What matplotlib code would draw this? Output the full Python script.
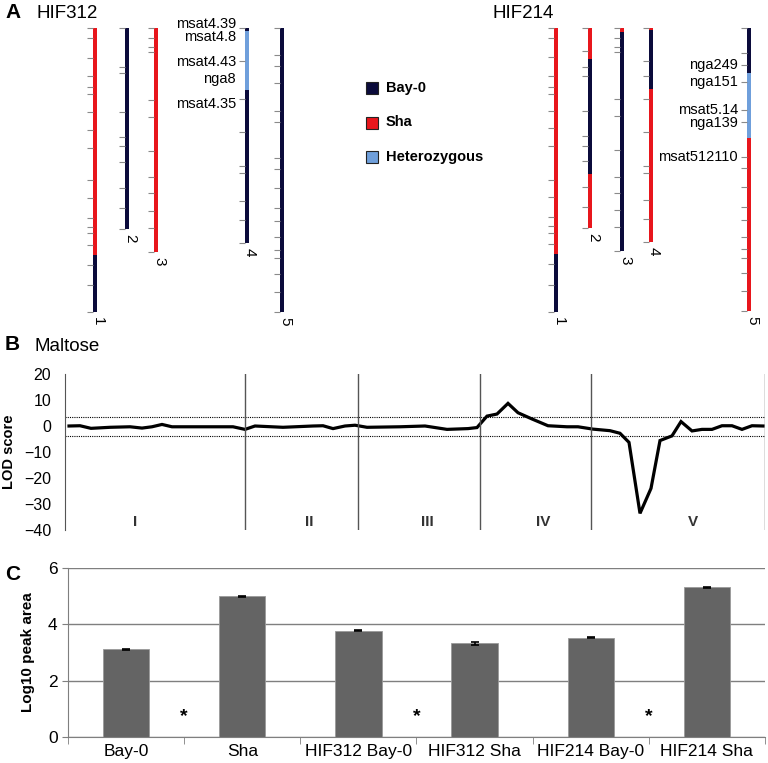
import numpy as np
import matplotlib
matplotlib.use("Agg")
import matplotlib.pyplot as plt
from matplotlib.patches import Rectangle

plt.rcParams['font.family'] = ['Liberation Sans', 'DejaVu Sans']

# ---------------- data ----------------
# panel A: chromosome lengths, genotype segments, marker ticks (position from top)
geno_colors = {'Bay': '#0b0b3b', 'Sha': '#e8161c', 'Het': '#6f9fdb'}
legend_names = ['Bay-0', 'Sha', 'Heterozygous']
legend_keys = ['Bay', 'Sha', 'Het']

hif312_len = [284, 201, 224, 215, 284]
hif312_seg = [
    [(0, 227, 'Sha'), (227, 284, 'Bay')],
    [(0, 201, 'Bay')],
    [(0, 224, 'Sha')],
    [(0, 3, 'Bay'), (3, 62, 'Het'), (62, 215, 'Bay')],
    [(0, 284, 'Bay')],
]
hif312_ticks = [
    [0, 10, 30, 48, 59, 66, 84, 102, 120, 152, 170, 190, 199, 205, 217, 237, 257, 284],
    [0, 39, 45, 84, 109, 118, 134, 160, 180, 201],
    [0, 10, 19, 24, 72, 89, 123, 149, 165, 183, 200, 224],
    [0, 33, 71, 104, 138, 145, 173, 192, 215],
    [0, 27, 38, 55, 83, 94, 130, 141, 160, 180, 193, 209, 222, 230, 246, 264, 284],
]
hif312_markers = ['msat4.39', 'msat4.8', 'msat4.43', 'nga8', 'msat4.35']
hif312_marker_pos = [-4, 9, 34, 51, 76]
hif312_marker_chr = 4

hif214_len = [284, 200, 223, 214, 283]
hif214_seg = [
    [(0, 226, 'Sha'), (226, 284, 'Bay')],
    [(0, 31, 'Sha'), (31, 146, 'Bay'), (146, 200, 'Sha')],
    [(0, 4, 'Sha'), (4, 223, 'Bay')],
    [(0, 2, 'Sha'), (2, 61, 'Bay'), (61, 214, 'Sha')],
    [(0, 45, 'Bay'), (45, 110, 'Het'), (110, 283, 'Sha')],
]
hif214_ticks = [
    [0, 10, 29, 48, 59, 66, 83, 100, 118, 152, 169, 189, 198, 205, 216, 236, 257, 284],
    [0, 23, 39, 48, 83, 108, 118, 133, 159, 179, 200],
    [0, 10, 19, 24, 71, 88, 122, 149, 165, 182, 199, 223],
    [0, 33, 48, 71, 104, 138, 145, 172, 191, 214],
    [0, 25, 37, 54, 82, 94, 129, 140, 159, 179, 192, 209, 221, 230, 245, 263, 283],
]
hif214_markers = ['nga249', 'nga151', 'msat5.14', 'nga139', 'msat512110']
hif214_marker_pos = [37, 54, 82, 95, 129]
hif214_marker_chr = 5

# panel B: LOD profile along genome
lod_pos = [4, 15, 26, 45, 65, 77, 87, 97, 107, 135, 168, 180, 190, 218, 248, 258, 268,
           280, 290, 302, 335, 360, 382, 403, 412, 422, 432, 443, 453, 467, 483, 502,
           513, 528, 545, 555, 564, 575, 586, 595, 607, 616, 627, 637, 647, 657, 667,
           677, 687, 698]
lod_val = [0, 0.1, -0.9, -0.5, -0.3, -0.8, -0.3, 0.6, -0.3, -0.3, -0.3, -1.3, 0, -0.5,
           0, 0.1, -1.0, 0, 0.3, -0.5, -0.3, 0, -1.3, -1.0, -0.6, 3.8, 4.6, 8.7, 5.1,
           2.7, 0.1, -0.3, -0.3, -1.2, -1.8, -2.8, -6.3, -33.6, -24, -5.6, -3.8, 1.7,
           -1.9, -1.3, -1.3, 0.1, 0.1, -1.3, 0.1, 0]
chr_bounds = [180, 293, 415, 526, 700]
chr_names = ['I', 'II', 'III', 'IV', 'V']
chr_label_pos = [70, 244, 362, 478, 628]
thr_up, thr_low = 3.3, -3.7

# panel C: log10 peak area
groups = ['Bay-0', 'Sha', 'HIF312 Bay-0', 'HIF312 Sha', 'HIF214 Bay-0', 'HIF214 Sha']
peak = [3.12, 4.99, 3.77, 3.32, 3.52, 5.31]
peak_err = [0.02, 0.02, 0.02, 0.07, 0.02, 0.02]
star_pos = [0.5, 2.5, 4.5]

# ---------------- figure ----------------
W, H = 768, 763
fig = plt.figure(figsize=(W / 100, H / 100), dpi=100)

# panel A in pixel-like coordinates
axA = fig.add_axes([0, (H - 330) / H, 1, 330 / H])
axA.set_xlim(0, W)
axA.set_ylim(330, 0)
axA.axis('off')

top = 28
bw = 4.5


def draw_set(xs, lens, segs, ticks, markers, mpos, mchr):
    for i, x in enumerate(xs):
        for s, e, g in segs[i]:
            axA.add_patch(Rectangle((x - bw / 2, top + s), bw, e - s,
                                    facecolor=geno_colors[g], edgecolor='none'))
        t = np.array(ticks[i]) + top
        axA.hlines(t, x - bw / 2 - 6, x - bw / 2, color='#8a8a8a', lw=0.8)
        axA.text(x + 3, top + lens[i] + 5, str(i + 1), rotation=-90,
                 ha='center', va='top', fontsize=11)
    x = xs[mchr - 1]
    for name, p in zip(markers, mpos):
        axA.text(x - 11, top + p, name, ha='right', va='center', fontsize=10.5)


draw_set([95, 127, 156, 247, 282], hif312_len, hif312_seg, hif312_ticks,
         hif312_markers, hif312_marker_pos, hif312_marker_chr)
draw_set([556, 590, 622, 651, 749], hif214_len, hif214_seg, hif214_ticks,
         hif214_markers, hif214_marker_pos, hif214_marker_chr)

axA.text(5, 13, 'A', fontsize=15, fontweight='bold', va='center')
axA.text(37, 13, 'HIF312', fontsize=13.5, va='center')
axA.text(493, 13, 'HIF214', fontsize=13.5, va='center')

for k, (name, key) in enumerate(zip(legend_names, legend_keys)):
    yc = 88 + k * 34.5
    axA.add_patch(Rectangle((366, yc - 6), 12, 12, facecolor=geno_colors[key],
                            edgecolor='#222222', lw=0.8))
    axA.text(386, yc, name, fontsize=10.5, fontweight='bold', va='center')

# panel B
axB = fig.add_axes([65 / W, (H - 530) / H, 700 / W, 156 / H])
axB.plot(lod_pos, lod_val, color='black', lw=2.3, solid_joinstyle='miter')
axB.axhline(thr_up, color='black', lw=0.8, ls=(0, (1, 1)))
axB.axhline(thr_low, color='black', lw=0.8, ls=(0, (1, 1)))
for b in chr_bounds:
    axB.axvline(b, color='#555555', lw=1)
for name, p in zip(chr_names, chr_label_pos):
    axB.text(p, -37, name, ha='center', va='center', fontsize=11,
             fontweight='bold', color='#333333')
axB.set_xlim(0, 700)
axB.set_ylim(-40, 20)
axB.set_yticks([20, 10, 0, -10, -20, -30, -40])
axB.tick_params(axis='y', length=0, pad=10, labelsize=11.5)
axB.set_xticks([])
for s in ['top', 'right', 'bottom']:
    axB.spines[s].set_visible(False)
axB.spines['left'].set_color('#555555')
axB.set_ylabel('LOD score', fontsize=10.5, fontweight='bold', labelpad=6)
fig.text(5 / W, 1 - 345 / H, 'B', fontsize=15, fontweight='bold', va='center')
fig.text(35 / W, 1 - 346 / H, 'Maltose', fontsize=13.5, va='center')

# panel C
axC = fig.add_axes([68 / W, (H - 737) / H, 697 / W, 169 / H])
xc = np.arange(len(groups))
axC.set_axisbelow(True)
axC.yaxis.grid(True, color='#7f7f7f', lw=1)
axC.bar(xc, peak, width=0.4, color='#646464', edgecolor='#9a9a9a', lw=0.6)
axC.errorbar(xc, peak, yerr=peak_err, fmt='none', ecolor='black', elinewidth=1.2,
             capsize=3, capthick=1.2)
for p in star_pos:
    axC.text(p, 0.72, '*', ha='center', va='center', fontsize=14, fontweight='bold')
axC.set_xlim(-0.5, len(groups) - 0.5)
axC.set_ylim(0, 6)
axC.set_yticks([0, 2, 4, 6])
axC.set_xticks(xc)
axC.set_xticklabels(groups)
axC.set_xticks(np.arange(len(groups) + 1) - 0.5, minor=True)
axC.tick_params(axis='x', which='major', length=0, labelsize=12.5, pad=5)
axC.tick_params(axis='x', which='minor', length=5, color='#7f7f7f')
axC.tick_params(axis='y', length=4, color='#7f7f7f', labelsize=12.5)
for s in ['top', 'right']:
    axC.spines[s].set_visible(False)
axC.spines['left'].set_color('#7f7f7f')
axC.spines['bottom'].set_color('#7f7f7f')
axC.set_ylabel('Log10 peak area', fontsize=11, fontweight='bold', labelpad=9)
fig.text(5 / W, 1 - 575 / H, 'C', fontsize=15, fontweight='bold', va='center')

fig.savefig('out.png', dpi=100)
